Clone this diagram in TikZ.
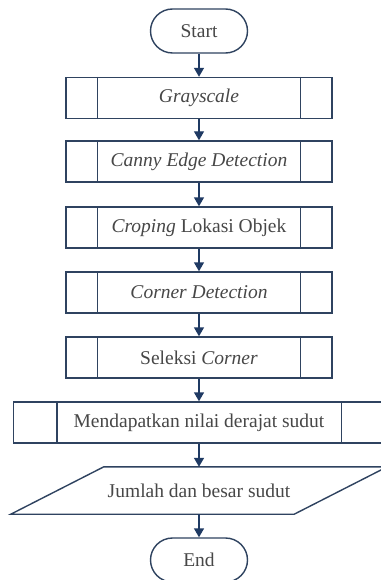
\documentclass[tikz,border=0pt]{standalone}
\usepackage{fontspec}
\setmainfont{Liberation Serif}
\usetikzlibrary{arrows.meta}
\definecolor{edge}{HTML}{2F4360}
\definecolor{tip}{HTML}{1F3A63}
\definecolor{ink}{HTML}{474747}
\begin{document}
\begin{tikzpicture}[x=1pt,y=-1pt,
  every node/.style={font=\fontsize{19.5}{23}\selectfont, text=ink},
  outline/.style={draw=edge, line width=1.4pt},
  term/.style={outline, rounded corners=22pt, minimum width=97pt, minimum height=44pt, inner sep=0pt},
  proc/.style={outline, minimum width=266pt, minimum height=41pt, inner sep=0pt},
  wideproc/.style={outline, minimum width=371pt, minimum height=41pt, inner sep=0pt},
  flow/.style={draw=tip, line width=1.4pt, -{Triangle[length=9pt,width=10pt]}}
]
% page frame
\fill[white] (0,0) rectangle (380,580);
\useasboundingbox (0,0) rectangle (380,580);

% terminals, processes and output
\node[term] (start) at (199,31) {Start};
\node[proc] (gray)  at (199,98)    {\itshape Grayscale};
\node[proc] (canny) at (199,161.5) {\itshape Canny Edge Detection};
\node[proc] (crop)  at (199,227.5) {\textit{Croping} Lokasi Objek};
\node[proc] (corner) at (199,292.5) {\itshape Corner Detection};
\node[proc] (sel)   at (199,357.5) {Seleksi \textit{Corner}};
\node[wideproc] (deg) at (199,422.5) {Mendapatkan nilai derajat sudut};
\node[minimum width=283pt, minimum height=47pt, inner sep=0pt] (io) at (199,490.5) {Jumlah dan besar sudut};
\node[term] (end)   at (199,560) {End};

% predefined-process side bars
\foreach \n in {gray,canny,crop,corner,sel}{
  \draw[outline] ([xshift=32pt]\n.north west) -- ([xshift=32pt]\n.south west);
  \draw[outline] ([xshift=-32pt]\n.north east) -- ([xshift=-32pt]\n.south east);
}
\draw[outline] ([xshift=44pt]deg.north west) -- ([xshift=44pt]deg.south west);
\draw[outline] ([xshift=-44pt]deg.north east) -- ([xshift=-44pt]deg.south east);

% data (parallelogram) outline
\draw[outline] ([xshift=46.5pt]io.north west) -- ([xshift=46.5pt]io.north east)
  -- ([xshift=-46.5pt]io.south east) -- ([xshift=-46.5pt]io.south west) -- cycle;

% flow arrows
\draw[flow] (start.south) -- (gray.north);
\draw[flow] (gray.south) -- (canny.north);
\draw[flow] (canny.south) -- (crop.north);
\draw[flow] (crop.south) -- (corner.north);
\draw[flow] (corner.south) -- (sel.north);
\draw[flow] (sel.south) -- (deg.north);
\draw[flow] (deg.south) -- (io.north);
\draw[flow] (io.south) -- (end.north);
\end{tikzpicture}
\end{document}
